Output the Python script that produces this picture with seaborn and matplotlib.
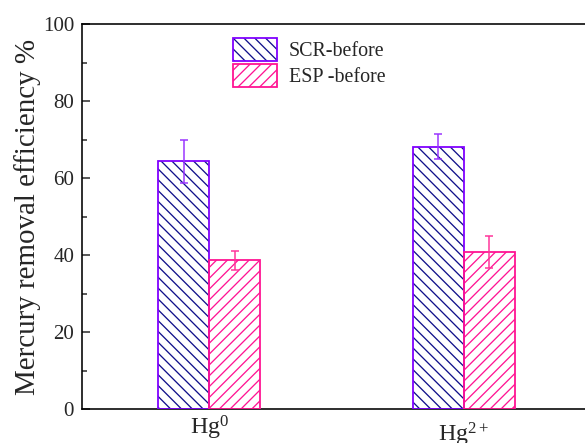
import numpy as np
import pandas as pd
import matplotlib
matplotlib.use("Agg")
import matplotlib.pyplot as plt
import matplotlib.transforms as mtransforms
from matplotlib.patches import Rectangle, Patch
from matplotlib.legend_handler import HandlerTuple
from matplotlib.ticker import MultipleLocator
import seaborn as sns

# ---- data ----
categories = ["Hg0", "Hg2+"]
tick_labels = [r"$\mathregular{Hg^{0}}$", r"$\mathregular{Hg^{2+}}$"]
series_names = ["SCR-before", "ESP -before"]
scr_values = [64.4, 68.1]
scr_errors = [5.6, 3.25]
esp_values = [38.6, 40.8]
esp_errors = [2.4, 4.2]

DPI = 130
PX = 72.0 / DPI  # points per pixel

sns.set_style("white")
plt.rcParams["font.family"] = ["Liberation Serif", "DejaVu Serif"]
plt.rcParams["mathtext.fontset"] = "custom"
plt.rcParams["mathtext.rm"] = "Liberation Serif"
plt.rcParams["mathtext.it"] = "Liberation Serif:italic"
plt.rcParams["hatch.linewidth"] = 1.0 * PX * 1.3

df = pd.DataFrame({
    "species": categories * 2,
    "series": [series_names[0]] * 2 + [series_names[1]] * 2,
    "value": scr_values + esp_values,
})

fig = plt.figure(figsize=(585 / DPI, 443 / DPI), dpi=DPI)
ax = fig.add_axes([82 / 585, (443 - 409) / 443, (591 - 82) / 585, 385 / 443])

edge_colors = ["#8000FF", "#FF1493"]
hatch_colors = ["#10108A", "#FF1493"]
err_colors = ["#9933FF", "#FF3399"]
bs = chr(92)
hatches = [bs * 4, "////"]
errors = [scr_errors, esp_errors]

sns.barplot(data=df, x="species", y="value", hue="series", hue_order=series_names,
            order=categories, palette=["white", "white"], width=0.4, gap=0,
            errorbar=None, legend=False, saturation=1, ax=ax)

for cont, ec, hc, h, errs, erc in zip(ax.containers, edge_colors, hatch_colors,
                                       hatches, errors, err_colors):
    xs, ys = [], []
    for bar in cont:
        bar.set_facecolor("white")
        bar.set_hatch(h)
        bar.set_edgecolor(hc)
        bar.set_linewidth(0)
        ax.add_patch(Rectangle((bar.get_x(), bar.get_y()), bar.get_width(),
                               bar.get_height(), fill=False, edgecolor=ec,
                               linewidth=1.8 * PX, zorder=3))
        xs.append(bar.get_x() + bar.get_width() / 2)
        ys.append(bar.get_height())
    ax.errorbar(xs, ys, yerr=errs, fmt="none", ecolor=erc, elinewidth=1.5 * PX,
                capsize=4 * PX, capthick=1.5 * PX, zorder=4)

ax.set_xlim(-0.5, 1.5)
ax.set_ylim(0, 100)
ax.set_xticks([0, 1])
ax.set_xticklabels(tick_labels, fontsize=24 * PX)
ax.set_xlabel("")
ax.yaxis.set_major_locator(MultipleLocator(20))
ax.yaxis.set_minor_locator(MultipleLocator(10))
ax.tick_params(axis="y", which="major", direction="in", length=8 * PX,
               width=1.5 * PX, labelsize=21 * PX, pad=8 * PX, left=True, right=False)
ax.tick_params(axis="y", which="minor", direction="in", length=5 * PX,
               width=1.5 * PX, left=True, right=False)
ax.tick_params(axis="x", which="both", length=0, pad=5 * PX)
ax.set_ylabel("Mercury removal efficiency %", fontsize=29 * PX, labelpad=2 * PX)

for sp in ax.spines.values():
    sp.set_linewidth(1.6 * PX)
    sp.set_color("black")

# shift second tick label down like the reference
offset = mtransforms.ScaledTranslation(0, -7 / DPI, fig.dpi_scale_trans)
lbls = ax.get_xticklabels()
lbls[1].set_transform(lbls[1].get_transform() + offset)

handles = []
for ec, hc, h in zip(edge_colors, hatch_colors, hatches):
    ph = Patch(facecolor="white", edgecolor=hc, hatch=h, linewidth=0)
    pe = Patch(facecolor="none", edgecolor=ec, linewidth=1.8 * PX)
    handles.append((ph, pe))

fs_leg = 20 * PX
ax.legend(handles, series_names, handler_map={tuple: HandlerTuple(ndivide=1, pad=0)},
          loc="upper left", bbox_to_anchor=((233 - 82) / 509, (409 - 38) / 385),
          frameon=False, fontsize=fs_leg, handlelength=44 / 20, handleheight=1.39,
          labelspacing=0.15, handletextpad=0.6, borderpad=0, borderaxespad=0)

fig.savefig("out.png", dpi=DPI)
